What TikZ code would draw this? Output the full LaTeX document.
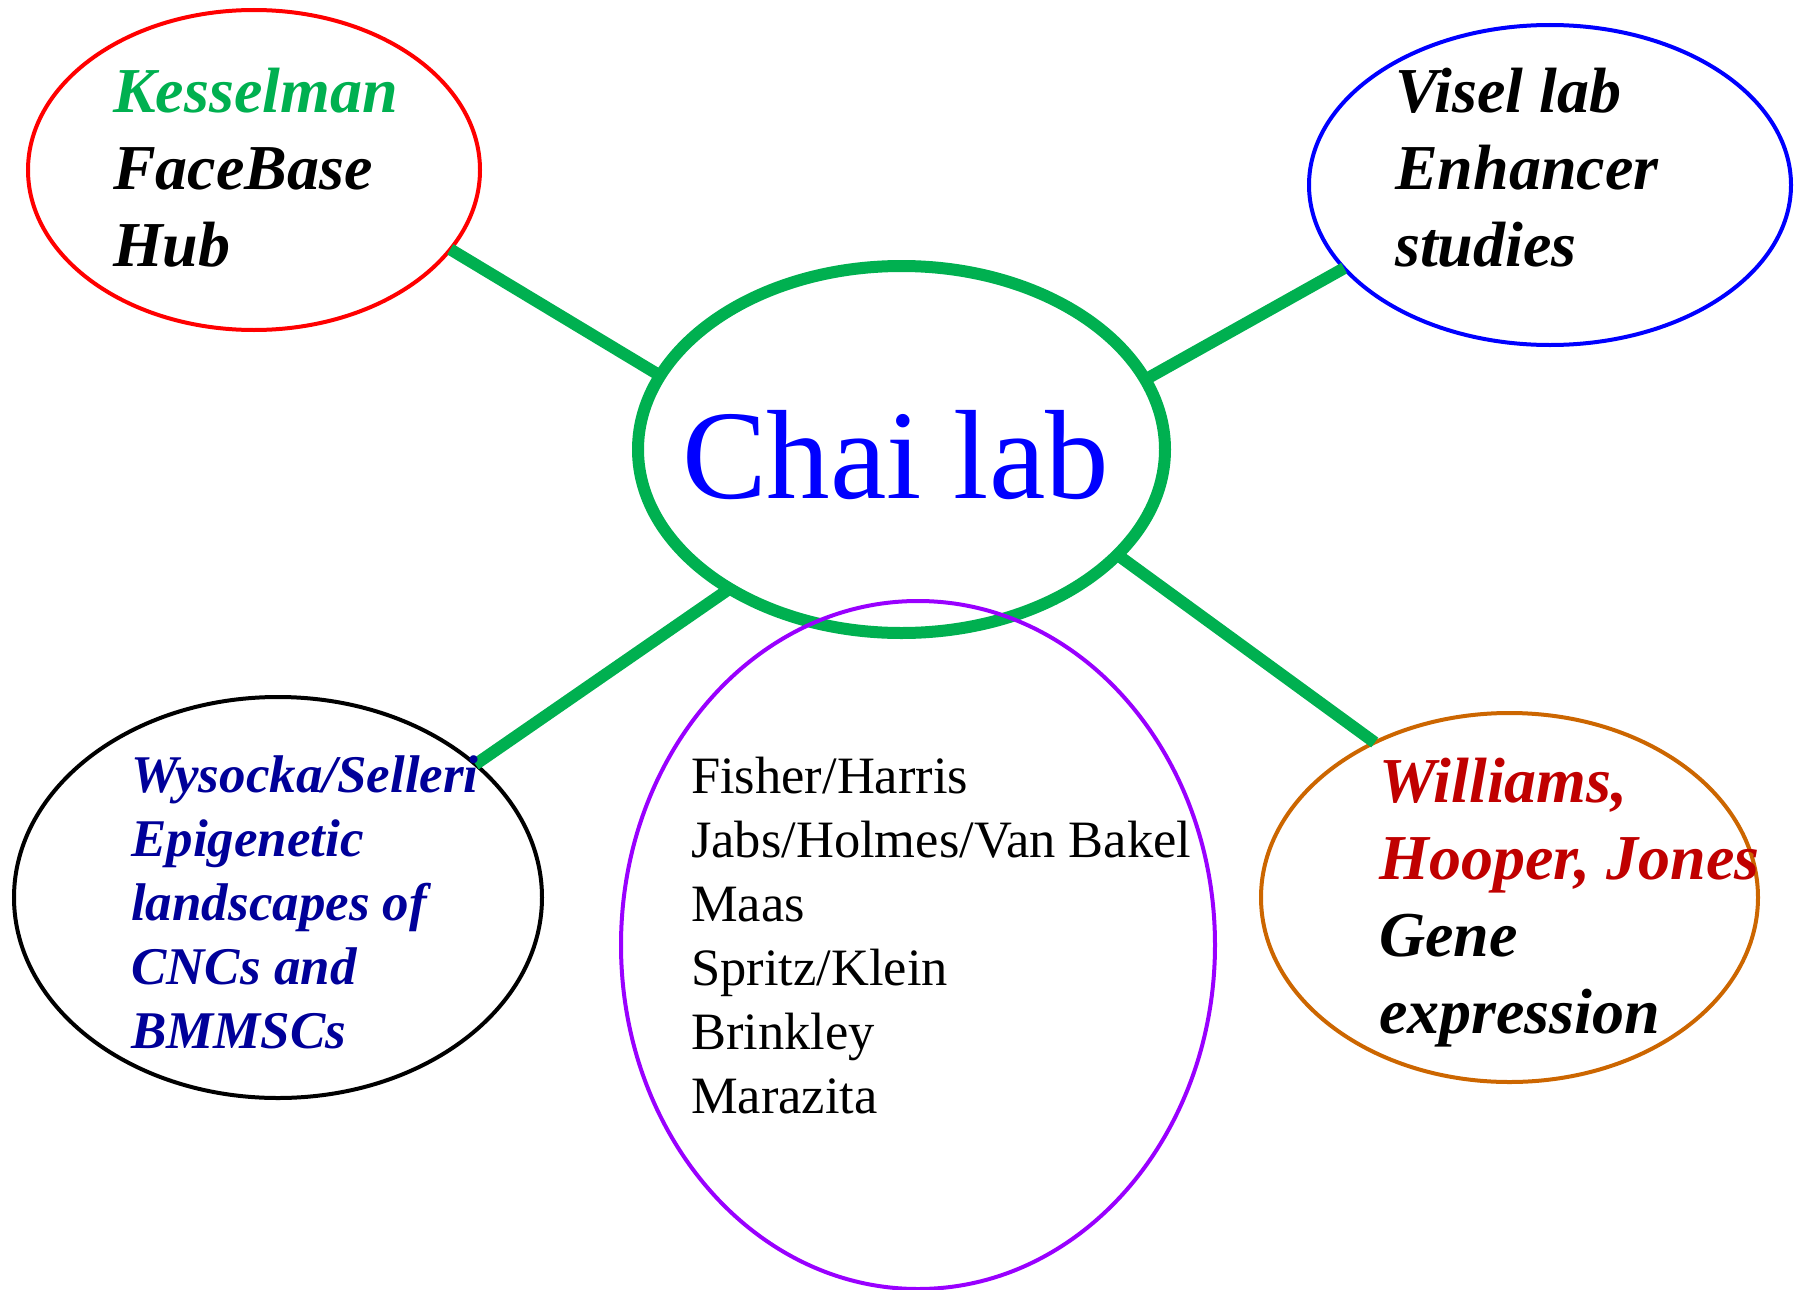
\documentclass[tikz,border=0pt]{standalone}
\usepackage{fontspec}
\setmainfont{Liberation Serif}
\usetikzlibrary{shapes.geometric}
\definecolor{hubgreen}{HTML}{00B050}
\definecolor{labblue}{HTML}{0000FF}
\definecolor{navytext}{HTML}{000099}
\definecolor{violetring}{HTML}{9900FF}
\definecolor{rustring}{HTML}{CC6600}
\definecolor{darkred}{HTML}{C00000}
\begin{document}
\begin{tikzpicture}[x=1pt,y=-1pt,
  ring/.style={ellipse, draw, line width=4pt, inner sep=0pt, outer sep=0pt},
  link/.style={draw=hubgreen, line width=12pt},
  bigtext/.style={anchor=base west, inner sep=0pt,
    font=\fontsize{64}{77}\selectfont\bfseries\itshape},
  midtext/.style={anchor=base west, inner sep=0pt,
    font=\fontsize{53}{64}\selectfont\bfseries\itshape},
  listtext/.style={anchor=base west, inner sep=0pt,
    font=\fontsize{52.5}{64}\selectfont},
]
\useasboundingbox (0,0) rectangle (1797,1290);

% outer collaborator rings
\node[ring, draw=red, minimum width=452pt, minimum height=320pt] (hub) at (254,170) {};
\node[ring, draw=labblue, minimum width=482pt, minimum height=320pt] (visel) at (1550,185) {};
\node[ring, draw=black, minimum width=528pt, minimum height=401pt] (wysocka) at (278,897.5) {};
\node[ring, draw=rustring, minimum width=497pt, minimum height=369pt] (williams) at (1509.5,897.5) {};

% central lab
\node[ring, draw=hubgreen, line width=12pt, minimum width=527pt, minimum height=367pt] (chai) at (901.5,449.5) {};

% spokes
\draw[link] (hub.-22.5) -- (chai.163.7);
\draw[link] (chai.16.4) -- (visel.-158.5);
\draw[link] (chai.-26.5) -- (williams.131.7);
\draw[link] (chai.-141.6) -- (wysocka.34.9);

% group list ring
\node[ring, draw=violetring, minimum width=594pt, minimum height=688pt] (groups) at (918,945) {};

% labels
\node[inner sep=0pt, anchor=base west, font=\fontsize{127}{150}\selectfont, text=labblue]
  (chailabel) at (682,498) {Chai lab};

\node[bigtext] (hublabel) at (113,113)
  {\begin{tabular}[t]{@{}l@{}}\color{hubgreen}Kesselman\\FaceBase\\Hub\end{tabular}};

\node[bigtext] (visellabel) at (1395,113)
  {\begin{tabular}[t]{@{}l@{}}Visel lab\\Enhancer\\studies\end{tabular}};

\node[midtext, text=navytext] (wysockalabel) at (131,792)
  {\begin{tabular}[t]{@{}l@{}}Wysocka/Selleri\\Epigenetic\\landscapes of\\CNCs and\\BMMSCs\end{tabular}};

\node[listtext] (groupslabel) at (691,793)
  {\begin{tabular}[t]{@{}l@{}}Fisher/Harris\\Jabs/Holmes/Van Bakel\\Maas\\Spritz/Klein\\Brinkley\\Marazita\end{tabular}};

\node[bigtext] (williamslabel) at (1379,802)
  {\begin{tabular}[t]{@{}l@{}}\color{darkred}Williams,\\\color{darkred}Hooper, Jones\\Gene\\expression\end{tabular}};
\end{tikzpicture}
\end{document}
